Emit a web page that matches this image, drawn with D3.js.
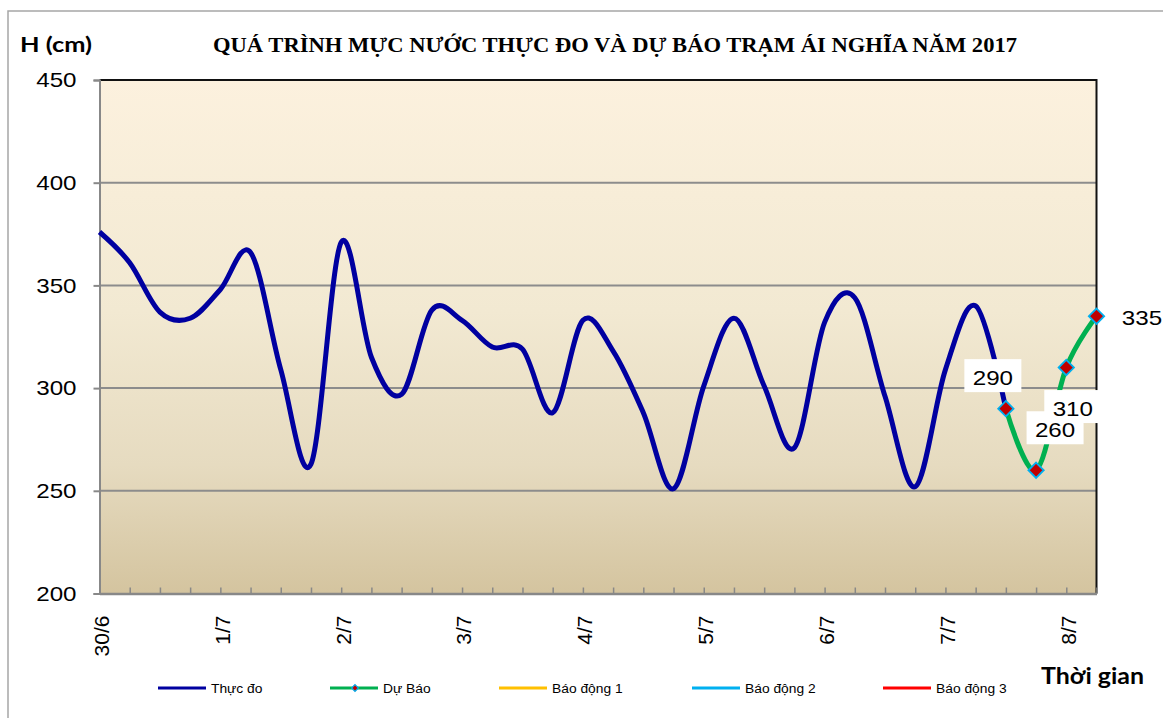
<!DOCTYPE html>
<html lang="vi">
<head>
    <meta charset="UTF-8">
    <title>Mực nước trạm Ái Nghĩa 2017</title>
    <script src="https://d3js.org/d3.v7.min.js"></script>
    <style>
        body { margin: 0; background: #fff; }
        text { fill: #000; }
    </style>
</head>
<body>
    <svg id="chart"></svg>

    <script>
        // Data (cm), 4 readings per day
        const days = ["30/6", "1/7", "2/7", "3/7", "4/7", "5/7", "6/7", "7/7", "8/7"];
        const perDay = 4;
        const thucDo = [376, 361, 337, 334, 348, 366, 309, 263, 371, 315, 297, 338, 333, 320, 319, 288,
                        333, 318, 288, 251, 301, 334, 301, 271, 332, 344, 296, 252, 309, 340, 290];
        const duBao = [290, 260, 310, 335];
        const duBaoStart = 30;
        const yTicks = [200, 250, 300, 350, 400, 450];
        const legendNames = ["Thực đo", "Dự Báo", "Báo động 1", "Báo động 2", "Báo động 3"];
        const legendColors = ["#0000a0", "#00b050", "#ffc000", "#00b0f0", "#ff0000"];

        const width = 1163, height = 718;
        const plot = {left: 99.5, right: 1096.5, top: 80, bottom: 593.5};
        const nPoints = duBaoStart + duBao.length;
        const sans = "'Liberation Sans', Arial, sans-serif";
        const bold = "Lato, 'Open Sans', sans-serif";

        // stretch text horizontally a bit, the source renders fonts wide
        function stretch(sel, k) {
            sel.each(function() {
                const w = this.getComputedTextLength();
                d3.select(this).attr("textLength", w * k).attr("lengthAdjust", "spacingAndGlyphs");
            });
        }

        const svg = d3.select("#chart")
            .attr("width", width)
            .attr("height", height)
            .style("font-family", sans);

        const x = d3.scalePoint()
            .domain(d3.range(nPoints))
            .range([plot.left, plot.right]);

        const y = d3.scaleLinear()
            .domain([200, 450])
            .range([plot.bottom, plot.top]);

        // outer frame (only left and top are visible)
        svg.append("path")
            .attr("d", `M8,${height} V11 H${width}`)
            .attr("fill", "none")
            .attr("stroke", "#a6a6a6")
            .attr("stroke-width", 1.5);

        // plot background gradient
        const grad = svg.append("defs").append("linearGradient")
            .attr("id", "bg")
            .attr("x1", 0).attr("y1", 0).attr("x2", 0).attr("y2", 1);
        [[0, "#fcf1de"], [0.45, "#f2e9d2"], [0.75, "#e6dbc0"], [1, "#d4c49f"]].forEach(s => {
            grad.append("stop").attr("offset", s[0]).attr("stop-color", s[1]);
        });

        svg.append("rect")
            .attr("x", plot.left)
            .attr("y", plot.top)
            .attr("width", plot.right - plot.left)
            .attr("height", plot.bottom - plot.top)
            .attr("fill", "url(#bg)");

        // horizontal gridlines
        svg.append("g")
            .selectAll("line")
            .data(yTicks.slice(1, -1))
            .enter()
            .append("line")
            .attr("x1", plot.left)
            .attr("x2", plot.right)
            .attr("y1", d => y(d))
            .attr("y2", d => y(d))
            .attr("stroke", "#8c8c8c")
            .attr("stroke-width", 2);

        // top and right border
        svg.append("path")
            .attr("d", `M${plot.left},${y(450)} H${plot.right} V${plot.bottom}`)
            .attr("fill", "none")
            .attr("stroke", "#111")
            .attr("stroke-width", 2);

        // y axis
        const yAxis = svg.append("g")
            .attr("transform", `translate(${plot.left},0)`)
            .call(d3.axisLeft(y).tickValues(yTicks).tickSize(6).tickPadding(17));
        yAxis.attr("font-family", null).attr("font-size", null);
        yAxis.select(".domain").attr("stroke", "#888").attr("stroke-width", 2);
        yAxis.selectAll(".tick line").attr("stroke", "#888").attr("stroke-width", 2);
        yAxis.selectAll("text")
            .style("font-size", "21px")
            .call(stretch, 1.15);

        // x axis, ticks point inside the plot
        const xAxis = svg.append("g")
            .attr("transform", `translate(0,${plot.bottom})`)
            .call(d3.axisBottom(x).tickSizeInner(-6).tickSizeOuter(0).tickFormat(""));
        xAxis.select(".domain").attr("stroke", "#888").attr("stroke-width", 2.5);
        xAxis.selectAll(".tick line").attr("stroke", "#888").attr("stroke-width", 1.5);

        // day labels, rotated
        svg.append("g")
            .selectAll("text")
            .data(days)
            .enter()
            .append("text")
            .attr("transform", (d, i) => `translate(${x(i * perDay)},${plot.bottom + 22}) rotate(-90)`)
            .attr("text-anchor", "end")
            .attr("dy", "0.45em")
            .style("font-size", "21px")
            .text(d => d);

        // lines
        const line = d3.line()
            .x(d => x(d.i))
            .y(d => y(d.v))
            .curve(d3.curveCardinal.tension(0));

        const obs = thucDo.map((v, i) => ({i: i, v: v}));
        const fc = duBao.map((v, i) => ({i: duBaoStart + i, v: v}));

        svg.append("path")
            .datum(obs)
            .attr("d", line)
            .attr("fill", "none")
            .attr("stroke", legendColors[0])
            .attr("stroke-width", 5)
            .attr("stroke-linejoin", "round");

        svg.append("path")
            .datum(fc)
            .attr("d", line)
            .attr("fill", "none")
            .attr("stroke", legendColors[1])
            .attr("stroke-width", 5)
            .attr("stroke-linejoin", "round");

        // forecast markers
        const diamond = d3.symbol().type(d3.symbolDiamond2).size(150);
        svg.append("g")
            .selectAll("path")
            .data(fc)
            .enter()
            .append("path")
            .attr("d", diamond)
            .attr("transform", d => `translate(${x(d.i)},${y(d.v)})`)
            .attr("fill", "#c00000")
            .attr("stroke", "#00b0f0")
            .attr("stroke-width", 1.8);

        // data labels in white boxes (offsets picked by hand to match the source)
        const labelOffsets = [[-13, -23.5], [19, -33], [6.5, 48.5], [45.5, 8.7]];
        const labels = svg.append("g")
            .selectAll("g")
            .data(fc)
            .enter()
            .append("g")
            .attr("transform", (d, i) => `translate(${x(d.i) + labelOffsets[i][0]},${y(d.v) + labelOffsets[i][1]})`);
        labels.append("rect")
            .attr("x", -28.5)
            .attr("y", -26)
            .attr("width", 57)
            .attr("height", 33)
            .attr("fill", "#fff");
        labels.append("text")
            .attr("text-anchor", "middle")
            .style("font-size", "21px")
            .text(d => d.v)
            .call(stretch, 1.15);

        // title and axis names
        svg.append("text")
            .attr("x", 213)
            .attr("y", 51.5)
            .style("font-family", "'Liberation Serif', 'Times New Roman', serif")
            .style("font-weight", "bold")
            .style("font-size", "20px")
            .attr("textLength", 804)
            .attr("lengthAdjust", "spacingAndGlyphs")
            .text("QUÁ TRÌNH MỰC NƯỚC THỰC ĐO VÀ DỰ BÁO TRẠM ÁI NGHĨA NĂM  2017");

        svg.append("text")
            .attr("x", 20)
            .attr("y", 51.7)
            .style("font-family", bold)
            .style("font-weight", "bold")
            .style("font-size", "21px")
            .attr("textLength", 72)
            .attr("lengthAdjust", "spacingAndGlyphs")
            .text("H (cm)");

        svg.append("text")
            .attr("x", 1041)
            .attr("y", 684)
            .style("font-family", bold)
            .style("font-weight", "bold")
            .style("font-size", "22px")
            .attr("textLength", 103)
            .attr("lengthAdjust", "spacingAndGlyphs")
            .text("Thời gian");

        // legend
        const legendX = [158, 330, 499, 692, 883];
        const legend = svg.append("g")
            .selectAll("g")
            .data(legendNames)
            .enter()
            .append("g")
            .attr("transform", (d, i) => `translate(${legendX[i]},688)`);
        legend.append("line")
            .attr("x1", 0)
            .attr("x2", 48)
            .attr("stroke", (d, i) => legendColors[i])
            .attr("stroke-width", 3);
        legend.filter((d, i) => i === 1)
            .append("path")
            .attr("d", d3.symbol().type(d3.symbolDiamond2).size(30))
            .attr("transform", "translate(25,0)")
            .attr("fill", "#c00000")
            .attr("stroke", "#00b0f0")
            .attr("stroke-width", 1.2);
        legend.append("text")
            .attr("x", 53)
            .attr("y", 4.5)
            .style("font-size", "12px")
            .text(d => d)
            .call(stretch, 1.15);
    </script>
</body>
</html>
